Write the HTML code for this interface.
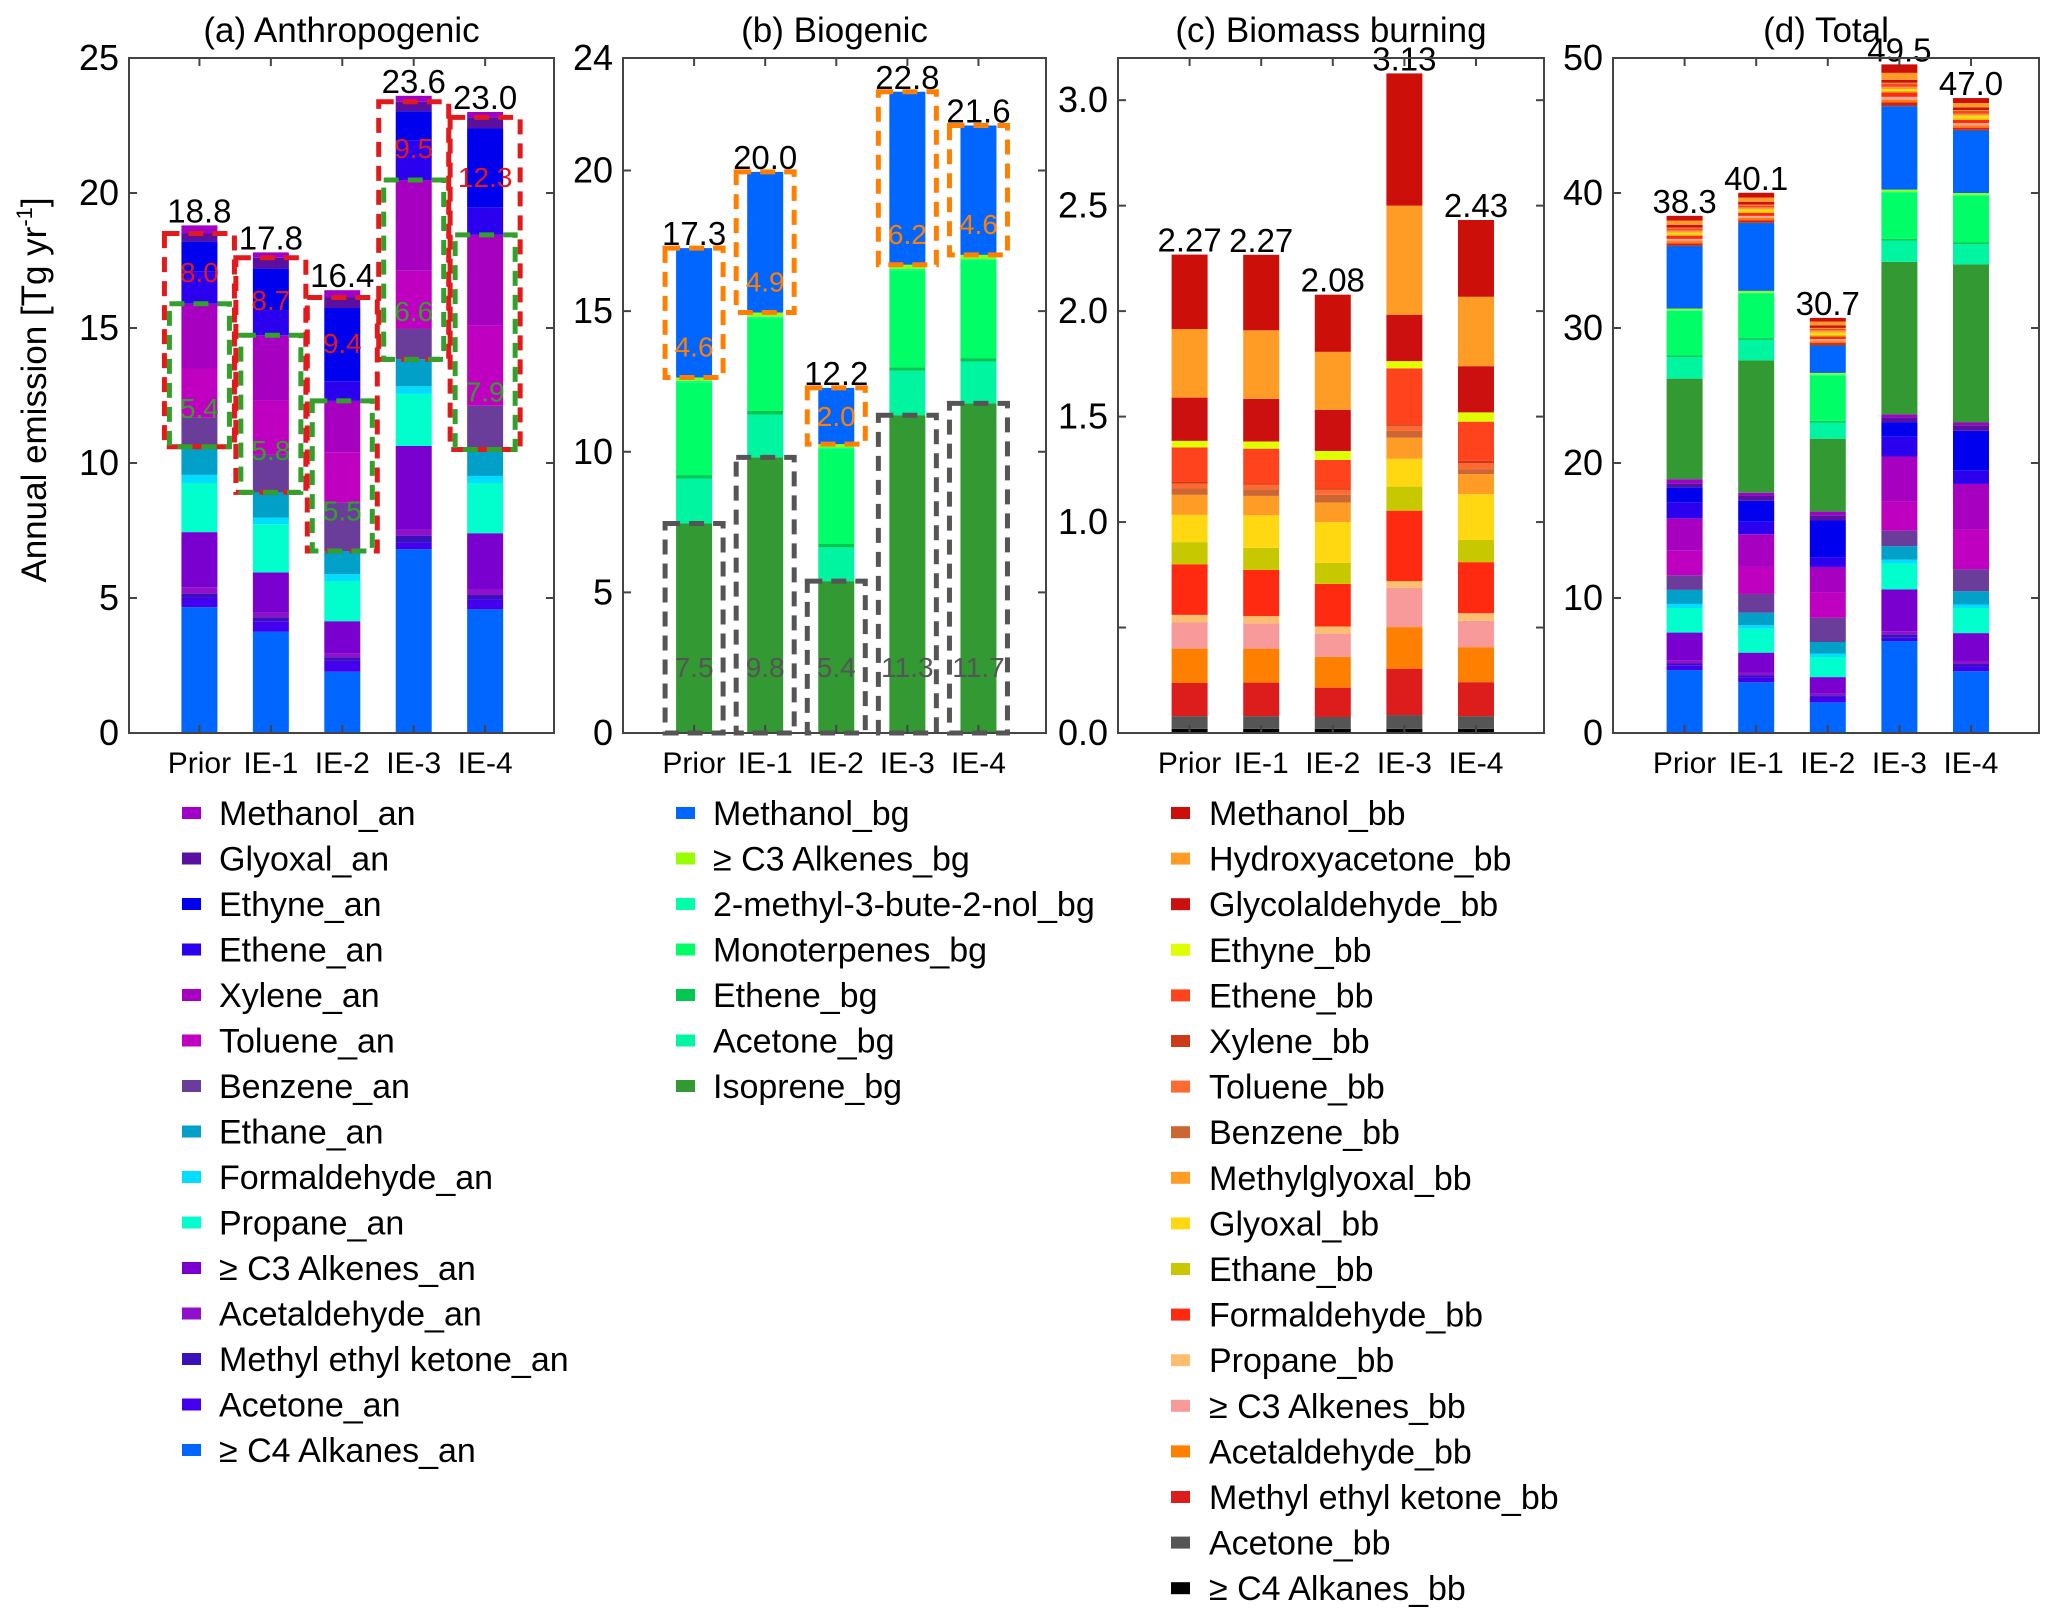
<!DOCTYPE html>
<html><head><meta charset="utf-8"><style>
html,body{margin:0;padding:0;background:#fff;}
svg{display:block;font-family:"Liberation Sans",Arial,sans-serif;}
</style></head><body>
<svg id="chart" xmlns="http://www.w3.org/2000/svg" width="2067" height="1614" viewBox="0 0 2067 1614"></svg>
<script>
const cats=['Prior','IE-1','IE-2','IE-3','IE-4'];
// Anthropogenic (stack bottom -> top)
const anNames=['≥ C4 Alkanes_an','Acetone_an','Methyl ethyl ketone_an','Acetaldehyde_an','≥ C3 Alkenes_an','Propane_an','Formaldehyde_an','Ethane_an','Benzene_an','Toluene_an','Xylene_an','Ethene_an','Ethyne_an','Glyoxal_an','Methanol_an'];
const anColors=['#0066ff','#4400ee','#3a10b8','#9010cc','#7a00d0','#00ffcc','#00ddff','#00a0c8','#6a3d9a','#c000c0','#a800c0','#2a00ee','#0000ee','#5a0fa0','#a000c8'];
const anPrior=[4.66,0.36,0.13,0.25,2.04,1.82,0.30,1.04,1.08,1.82,2.40,1.20,1.10,0.30,0.30];
const anIE1=[3.76,0.38,0.15,0.16,1.50,1.78,0.25,0.93,1.39,2.00,2.43,0.92,1.55,0.40,0.20];
const anIE2=[2.27,0.40,0.13,0.16,1.18,1.49,0.25,0.86,1.79,1.87,1.90,0.73,2.71,0.39,0.27];
const anIE3=[6.81,0.25,0.25,0.23,3.09,1.93,0.28,1.00,1.14,2.14,3.36,1.47,1.08,0.35,0.22];
const anIE4=[4.58,0.38,0.15,0.19,2.10,1.86,0.26,0.98,1.62,2.96,3.37,1.02,2.92,0.41,0.20];
const anTotals=['18.8','17.8','16.4','23.6','23.0'];
const anRedLabels=['8.0','8.7','9.4','9.5','12.3'];
const anGreenLabels=['5.4','5.8','5.5','6.6','7.9'];
// Biogenic
const bgNames=['Isoprene_bg','Acetone_bg','Ethene_bg','Monoterpenes_bg','2-methyl-3-bute-2-nol_bg','≥ C3 Alkenes_bg','Methanol_bg'];
const bgColors=['#339933','#00f5a0','#00c850','#00ff66','#00ffaa','#99ff00','#0066ff'];
const bgPrior=[7.45,1.60,0.12,3.30,0.05,0.12,4.60];
const bgIE1=[9.80,1.52,0.13,3.30,0.05,0.15,5.00];
const bgIE2=[5.40,1.20,0.12,3.38,0.05,0.12,2.00];
const bgIE3=[11.30,1.58,0.12,3.45,0.05,0.15,6.15];
const bgIE4=[11.72,1.49,0.12,3.47,0.05,0.15,4.60];
const bgTotals=['17.3','20.0','12.2','22.8','21.6'];
const bgOrangeLabels=['4.6','4.9','2.0','6.2','4.6'];
const bgGrayLabels=['7.5','9.8','5.4','11.3','11.7'];
// Biomass burning
const bbNames=['≥ C4 Alkanes_bb','Acetone_bb','Methyl ethyl ketone_bb','Acetaldehyde_bb','≥ C3 Alkenes_bb','Propane_bb','Formaldehyde_bb','Ethane_bb','Glyoxal_bb','Methylglyoxal_bb','Benzene_bb','Toluene_bb','Xylene_bb','Ethene_bb','Ethyne_bb','Glycolaldehyde_bb','Hydroxyacetone_bb','Methanol_bb'];
const bbColors=['#000000','#555555','#dd1c1c','#ff7f00','#f89a9a','#fdbf6f','#ff2a10','#c8c800','#ffd811','#ff9c26','#cc6633','#ff6a33','#cc3a1a','#ff431c','#dfff00','#cc1010','#ff9c26','#cc0f08'];
const bbPrior=[0.02,0.06,0.157,0.163,0.124,0.036,0.24,0.105,0.129,0.095,0.03,0.024,0.007,0.164,0.031,0.205,0.325,0.353];
const bbIE1=[0.02,0.06,0.159,0.161,0.12,0.034,0.219,0.105,0.154,0.092,0.032,0.022,0.005,0.165,0.034,0.202,0.325,0.358];
const bbIE2=[0.02,0.056,0.139,0.146,0.11,0.034,0.202,0.10,0.193,0.093,0.036,0.024,0.006,0.136,0.042,0.195,0.275,0.271];
const bbIE3=[0.02,0.065,0.22,0.197,0.186,0.032,0.334,0.114,0.132,0.10,0.032,0.024,0.007,0.266,0.034,0.22,0.517,0.627];
const bbIE4=[0.02,0.06,0.161,0.166,0.125,0.036,0.242,0.105,0.217,0.095,0.024,0.029,0.01,0.186,0.044,0.219,0.329,0.364];
const bbTotals=['2.27','2.27','2.08','3.13','2.43'];
const totTotals=['38.3','40.1','30.7','49.5','47.0'];
const ticksA=[0,5,10,15,20,25];
const ticksB=[0,5,10,15,20,24];
const ticksC=[0,0.5,1,1.5,2,2.5,3];
const tickLabelsC=['0.0','','1.0','1.5','2.0','2.5','3.0'];
const ticksD=[0,10,20,30,40,50];

const svg=document.getElementById('chart');
const NS='http://www.w3.org/2000/svg';
function mk(tag,attrs,parent){const e=document.createElementNS(NS,tag);for(const k in attrs)e.setAttribute(k,attrs[k]);(parent||svg).appendChild(e);return e;}
function txt(str,x,y,size,anchor,fill,parent){const t=mk('text',{x:x,y:y,'font-size':size,'text-anchor':anchor||'middle',fill:fill||'#000'},parent);t.textContent=str;return t;}

const anVals=[anPrior,anIE1,anIE2,anIE3,anIE4];
const bgVals=[bgPrior,bgIE1,bgIE2,bgIE3,bgIE4];
const bbVals=[bbPrior,bbIE1,bbIE2,bbIE3,bbIE4];

function panel(cfg){
  const g=mk('g',{});
  
  
  const Y=v=>cfg.y1-(v/cfg.max)*(cfg.y1-cfg.y0);
  const step=(cfg.x1-cfg.x0)/5.95;
  const X=i=>cfg.x0+step*(i+1)+(cfg.offset||0);
  cfg.values.forEach((arr,i)=>{
    let acc=0;
    arr.forEach((v,j)=>{
      const r=mk('rect',{x:X(i)-18,y:Y(acc+v),width:36,height:Math.max(0,Y(acc)-Y(acc+v)),fill:cfg.colors[j]},g);
      
      
      acc+=v;
    });
    const t=txt(cfg.totals[i],X(i),Y(acc)-3,33,'middle','#000',g);
    
    
  });
  const f=mk('rect',{x:cfg.x0,y:cfg.y0,width:cfg.x1-cfg.x0,height:cfg.y1-cfg.y0,fill:'none',stroke:'#444','stroke-width':2},g);
  
  
  cfg.ticks.forEach((v,k)=>{
    const y=Y(v);
    mk('line',{x1:cfg.x0,x2:cfg.x0+8,y1:y,y2:y,stroke:'#444','stroke-width':2},g);
    mk('line',{x1:cfg.x1-8,x2:cfg.x1,y1:y,y2:y,stroke:'#444','stroke-width':2},g);
    const lab=cfg.tickLabels?cfg.tickLabels[k]:String(v);
    if(lab){const t=txt(lab,cfg.x0-10,y+12,36,'end','#000',g);
      
      }
  });
  cats.forEach((c,i)=>{
    mk('line',{x1:X(i),x2:X(i),y1:cfg.y0,y2:cfg.y0+8,stroke:'#444','stroke-width':2},g);
    mk('line',{x1:X(i),x2:X(i),y1:cfg.y1-8,y2:cfg.y1,stroke:'#444','stroke-width':2},g);
    const t=txt(c,X(i),773,30,'middle','#000',g);
    
    
  });
  const tt=txt(cfg.title,(cfg.x0+cfg.x1)/2,42,35,'middle','#000',g);
  
  
  return {Y,X,g};
}
function dbox(g,x,w,ya,yb,color,name){
  const r=mk('rect',{x:x-w,y:Math.min(ya,yb),width:2*w,height:Math.abs(yb-ya),fill:'none',stroke:color,'stroke-width':5,'stroke-dasharray':'15 9'},g);
  
  
}
function cum(arr,n){let s=0;for(let k=0;k<n;k++)s+=arr[k];return s;}

const pa=panel({name:'panel-anthropogenic',title:'(a) Anthropogenic',x0:129,x1:554,y0:58,y1:733,max:25,ticks:ticksA,values:anVals,colors:anColors,totals:anTotals,offset:-1});
anVals.forEach((arr,i)=>{
  const bot=cum(arr,8), gtop=cum(arr,11), rtop=cum(arr,14);
  dbox(pa.g,pa.X(i),35,pa.Y(bot),pa.Y(rtop),'#e31a1c','anthropogenic-red-box');
  dbox(pa.g,pa.X(i),30,pa.Y(bot),pa.Y(gtop),'#33a02c','anthropogenic-green-box');
  const t1=txt(anRedLabels[i],pa.X(i),pa.Y(bot+0.82*(rtop-bot))+10,28,'middle','#e31a1c',pa.g);
  
  
  const t2=txt(anGreenLabels[i],pa.X(i),pa.Y(bot+0.27*(gtop-bot))+10,28,'middle','#33a02c',pa.g);
  
  
});
const pb=panel({name:'panel-biogenic',title:'(b) Biogenic',x0:623,x1:1046,y0:58,y1:733,max:24,ticks:ticksB,values:bgVals,colors:bgColors,totals:bgTotals,offset:0});
bgVals.forEach((arr,i)=>{
  const iso=arr[0], mb=cum(arr,6), top=cum(arr,7);
  dbox(pb.g,pb.X(i),29,pb.Y(0),pb.Y(iso),'#555555','isoprene-gray-box');
  dbox(pb.g,pb.X(i),29,pb.Y(mb),pb.Y(top),'#ff8000','methanol-orange-box');
  const t1=txt(bgOrangeLabels[i],pb.X(i),pb.Y(mb+Math.min(1.1,(top-mb)/2))+10,28,'middle','#ff8000',pb.g);
  
  
  const t2=txt(bgGrayLabels[i],pb.X(i),pb.Y(2.35)+10,28,'middle','#555555',pb.g);
  
  
});
panel({name:'panel-biomass-burning',title:'(c) Biomass burning',x0:1118,x1:1544,y0:58,y1:733,max:3.2,ticks:ticksC,tickLabels:tickLabelsC,values:bbVals,colors:bbColors,totals:bbTotals,offset:0});
const totVals=cats.map((c,i)=>anVals[i].concat(bgVals[i],bbVals[i]));
panel({name:'panel-total',title:'(d) Total',x0:1613,x1:2039,y0:58,y1:733,max:50,ticks:ticksD,values:totVals,colors:anColors.concat(bgColors,bbColors),totals:totTotals,offset:0});

const yt=mk('text',{x:0,y:0,'font-size':35,'text-anchor':'middle',transform:'translate(46,390) rotate(-90)'});


yt.textContent='Annual emission [Tg yr';
const sup=mk('tspan',{'font-size':22,dy:-14},yt);sup.textContent='-1';
const cl=mk('tspan',{'font-size':35,dy:14},yt);cl.textContent=']';

function legend(names,colors,mx,tx,y0,dy,name){
  const g=mk('g',{});
  
  
  names.slice().reverse().forEach((n,k)=>{
    const c=colors[colors.length-1-k];
    const y=y0+k*dy;
    const r=mk('rect',{x:mx,y:y-6,width:19,height:12,fill:c},g);
    
    
    const t=txt(n,tx,y+12,34,'start','#000',g);
    
    
  });
}
legend(anNames,anColors,182,219,813,45.5,'legend-anthropogenic');
legend(bgNames,bgColors,676,713,813,45.5,'legend-biogenic');
legend(bbNames,bbColors,1171,1209,813,45.6,'legend-biomass-burning');
</script>
</body></html>
